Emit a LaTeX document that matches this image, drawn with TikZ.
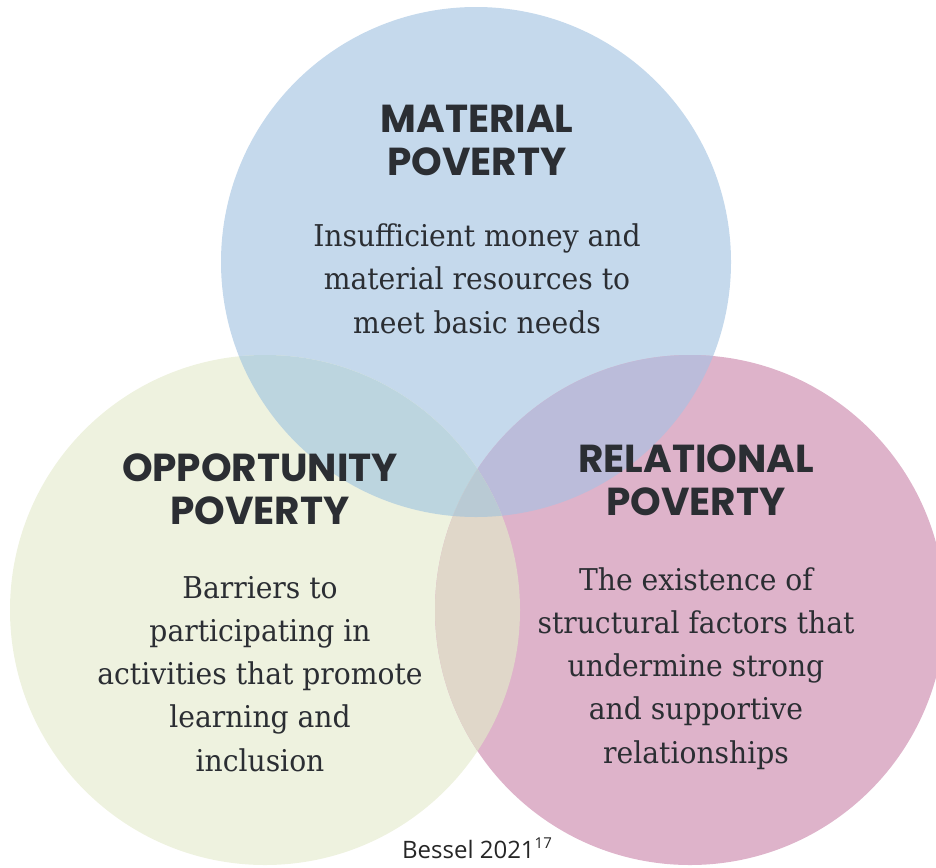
\documentclass[tikz,border=0pt]{standalone}
\usepackage{fontspec}
\setmainfont{DejaVu Serif}[FakeStretch=0.94]
\newfontfamily\headfont{Poppins Bold}
\newfontfamily\notefont{Open Sans}
\definecolor{ink}{HTML}{2B2E33}
\definecolor{matblue}{HTML}{C5D9EC}
\definecolor{oppgreen}{HTML}{EEF2DF}
\definecolor{relpink}{HTML}{DEB3CA}
\definecolor{matopp}{HTML}{BCD5DF}
\definecolor{matrel}{HTML}{BBBCDA}
\definecolor{opprel}{HTML}{E0D7C9}
\definecolor{allthree}{HTML}{B9CAD4}

\begin{document}
\begin{tikzpicture}[x=0.5pt, y=-0.5pt,
		head/.style={font=\headfont\fontsize{19.5}{21.2}\selectfont, text=ink, align=center, inner sep=0pt, anchor=base},
		body/.style={font=\fontsize{15}{21.6}\selectfont, text=ink, align=center, inner sep=0pt, anchor=base}]
			\useasboundingbox (0,0) rectangle (936,867);
			\coordinate (mat) at (476,262);
			\coordinate (opp) at (265,610);
			\coordinate (rel) at (690,610);
			% the three circles
			\fill[matblue] (mat) circle (127.5pt);
			\fill[oppgreen] (opp) circle (127.5pt);
			\fill[relpink] (rel) circle (127.5pt);
			% where they overlap
			\begin{scope}
				\clip (mat) circle (127.5pt);
				\fill[matopp] (opp) circle (127.5pt);
				\fill[matrel] (rel) circle (127.5pt);
			\end{scope}
			\begin{scope}
				\clip (opp) circle (127.5pt);
				\fill[opprel] (rel) circle (127.5pt);
				\clip (mat) circle (127.5pt);
				\fill[allthree] (rel) circle (127.5pt);
			\end{scope}
			% labels, placed by the baseline of their last line
			\node[head] (mathead) at (477,175) {MATERIAL\\POVERTY};
			\node[body] (mattext) at (477,333) {Insufficient money and\\material resources to\\meet basic needs};
			\node[head] (opphead) at (260,524) {OPPORTUNITY\\POVERTY};
			\node[body] (opptext) at (260,771) {Barriers to\\participating in\\activities that promote\\learning and\\inclusion};
			\node[head] (relhead) at (696,515) {RELATIONAL\\POVERTY};
			\node[body] (reltext) at (696,763) {The existence of\\structural factors that\\undermine strong\\and supportive\\relationships};
			\node[font=\notefont\fontsize{12}{14}\selectfont, text=black!85, anchor=base] (source) at (477,858) {Bessel 2021\raisebox{0.75ex}{\fontsize{7.5}{8}\selectfont 17}};
		\end{tikzpicture}
\end{document}
